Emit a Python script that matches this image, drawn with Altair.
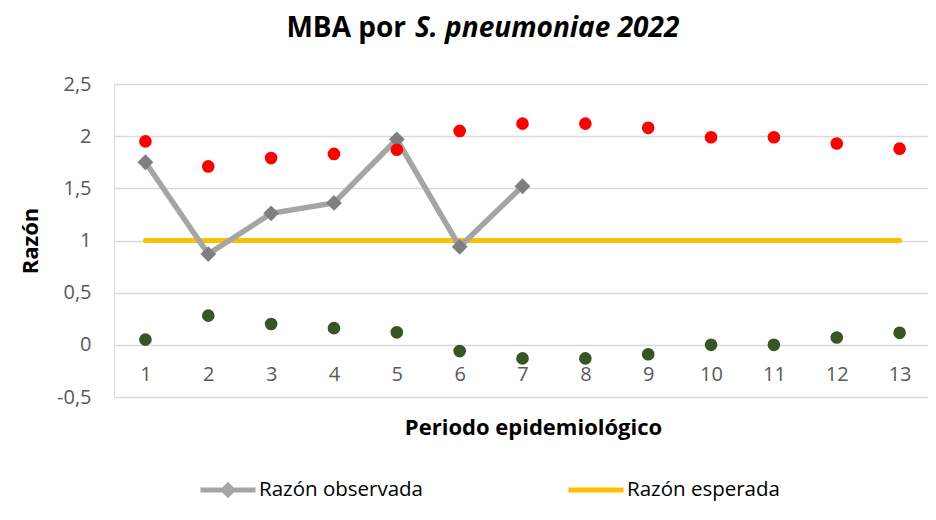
import altair as alt
import pandas as pd

# ---- data ----
periodos = [1, 2, 3, 4, 5, 6, 7, 8, 9, 10, 11, 12, 13]
razon_observada = [1.75, 0.87, 1.26, 1.36, 1.97, 0.94, 1.52]
razon_esperada = [1, 1, 1, 1, 1, 1, 1, 1, 1, 1, 1, 1, 1]
limite_superior = [1.95, 1.71, 1.79, 1.83, 1.87, 2.05, 2.12, 2.12, 2.08, 1.99, 1.99, 1.93, 1.88]
limite_inferior = [0.05, 0.28, 0.20, 0.16, 0.12, -0.06, -0.13, -0.13, -0.09, 0.0, 0.0, 0.07, 0.115]
y_ticks = [-0.5, 0, 0.5, 1, 1.5, 2, 2.5]

FONT = "Open Sans"
SERIE_OBS = "Razón observada"
SERIE_ESP = "Razón esperada"

df_obs = pd.DataFrame({
    "periodo": periodos[: len(razon_observada)],
    "valor": razon_observada,
    "serie": SERIE_OBS,
})
df_esp = pd.DataFrame({"periodo": periodos, "valor": razon_esperada, "serie": SERIE_ESP})
df_sup = pd.DataFrame({"periodo": periodos, "valor": limite_superior})
df_inf = pd.DataFrame({"periodo": periodos, "valor": limite_inferior})

x_enc = alt.X(
    "periodo:Q",
    title="Periodo epidemiológico",
    scale=alt.Scale(domain=[0.5, 13.452], nice=False, zero=False),
    axis=alt.Axis(
        values=periodos,
        format="d",
        labelAngle=0,
        offset=-52,
        domain=False,
        ticks=False,
        grid=False,
        labelPadding=19,
        labelFont=FONT,
        labelFontSize=20,
        labelColor="#595959",
        titleFont=FONT,
        titleFontSize=22,
        titleFontWeight="bold",
        titleColor="#000000",
        titlePadding=33,
        titleX=419,
        titleAlign="center",
    ),
)

y_enc = alt.Y(
    "valor:Q",
    title="Razón",
    scale=alt.Scale(domain=[-0.5, 2.5], nice=False, zero=False),
    axis=alt.Axis(
        values=y_ticks,
        labelExpr="replace(toString(datum.value), '.', ',')",
        domain=False,
        ticks=False,
        grid=True,
        gridColor="#D9D9D9",
        gridWidth=1.5,
        labelPadding=23,
        labelFont=FONT,
        labelFontSize=20,
        labelColor="#595959",
        titleFont=FONT,
        titleFontSize=22,
        titleFontWeight="bold",
        titleColor="#000000",
        titlePadding=14,
    ),
)

legend_common = dict(
    title=None,
    orient="none",
    direction="horizontal",
    symbolSize=3025,
    symbolStrokeWidth=5,
    labelFont=FONT,
    labelFontSize=20.5,
    labelColor="#000000",
    labelOffset=1,
    labelLimit=400,
)

color_obs = alt.Color(
    "serie:N",
    scale=alt.Scale(domain=[SERIE_OBS], range=["#A5A5A5"]),
    legend=alt.Legend(
        legendX=84,
        legendY=376,
        symbolType="M-1,0L1,0M0,-0.17L0.17,0L0,0.17L-0.17,0Z",
        symbolFillColor="#8C8C8C",
        **legend_common,
    ),
)
color_esp = alt.Color(
    "serie:N",
    scale=alt.Scale(domain=[SERIE_ESP], range=["#FFC000"]),
    legend=alt.Legend(
        legendX=452,
        legendY=376,
        symbolType="M-1,0L1,0",
        **legend_common,
    ),
)

esperada = alt.Chart(df_esp).mark_line(strokeWidth=5, strokeCap="round").encode(
    x=x_enc, y=y_enc, color=color_esp
)
obs_line = alt.Chart(df_obs).mark_line(strokeWidth=5.5).encode(
    x=x_enc, y=y_enc, color=color_obs
)
obs_pts = alt.Chart(df_obs).mark_point(
    shape="diamond", filled=True, size=250, color="#7F7F7F", opacity=1
).encode(x=x_enc, y=y_enc)
sup_pts = alt.Chart(df_sup).mark_circle(size=160, color="#FF0000", opacity=1).encode(
    x=x_enc, y=y_enc
)
inf_pts = alt.Chart(df_inf).mark_circle(size=160, color="#375623", opacity=1).encode(
    x=x_enc, y=y_enc
)

titulo_a = alt.Chart(pd.DataFrame({"t": ["MBA por"]})).mark_text(
    font=FONT, fontSize=28, fontWeight="bold", align="right", baseline="alphabetic", color="#000000"
).encode(text="t:N", x=alt.value(292), y=alt.value(-47))
titulo_b = alt.Chart(pd.DataFrame({"t": ["S. pneumoniae 2022"]})).mark_text(
    font=FONT, fontSize=28, fontWeight="bold", fontStyle="italic", align="left",
    baseline="alphabetic", color="#000000"
).encode(text="t:N", x=alt.value(301), y=alt.value(-47))

chart = (
    alt.layer(esperada, obs_line, obs_pts, sup_pts, inf_pts, titulo_a, titulo_b)
    .resolve_scale(color="independent")
    .properties(
        width=814,
        height=313,
        autosize="none",
        padding={"left": 106, "top": 76, "right": 0, "bottom": 108},
    )
    .configure_view(stroke=None)
    .configure(background="#FFFFFF")
)

chart.save("out.html", embed_options={"renderer": "svg", "actions": False})
